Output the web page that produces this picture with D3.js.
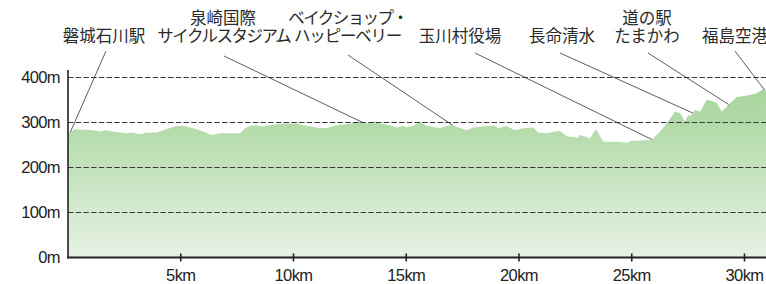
<!DOCTYPE html>
<html>
<head>
<meta charset="UTF-8">
<title>elevation profile</title>
<script src="https://d3js.org/d3.v7.min.js"></script>
<style>
  body { margin: 0; background: #fff; }
  svg { display: block; font-family: "Liberation Sans", Arial, sans-serif; }
  .lbl { font-family: "Noto Sans CJK JP", sans-serif; font-size: 16.5px; fill: #2a2a2a; }
</style>
</head>
<body>
<svg width="766" height="284"></svg>
<script>
// distance along the route (km) and elevation (m)
var distKm = [0, 0.31, 1.12, 1.49, 1.64, 1.86, 2.31, 2.60, 2.82, 3.19, 3.49, 3.93, 4.23, 4.52, 4.82,
  5.11, 5.41, 5.71, 6.00, 6.37, 6.74, 7.63, 7.85, 8.07, 8.37, 8.59, 8.96, 9.55, 10.14, 10.42,
  11.03, 11.47, 11.92, 12.51, 12.73, 13.02, 13.25, 13.61, 13.84, 14.28, 14.58, 14.87, 15.02,
  15.30, 15.61, 15.90, 16.49, 16.79, 17.01, 17.31, 17.68, 17.97, 18.57, 18.93, 19.08, 19.45,
  19.82, 20.19, 20.64, 20.86, 21.24, 21.60, 21.82, 22.11, 22.26, 22.48, 22.56, 22.71, 22.85,
  23.15, 23.41, 23.74, 24.33, 24.85, 24.92, 25.37, 25.88, 26.25, 26.55, 26.92, 27.14, 27.36,
  27.51, 27.58, 27.80, 28.03, 28.32, 28.55, 28.77, 28.99, 29.28, 29.65, 30.24, 30.54, 30.83, 31];
var elevM = [275, 285, 283, 280, 283, 281, 278, 276, 278, 274, 277, 278, 283, 288, 292,
  293, 289, 285, 280, 272, 276, 276, 287, 292, 294, 291, 294, 298, 298, 294,
  289, 287, 294, 297, 301, 301, 297, 303, 298, 294, 289, 293, 289,
  293, 301, 293, 287, 292, 295, 289, 283, 289, 292, 293, 287, 292,
  283, 287, 289, 277, 276, 280, 281, 270, 268, 268, 265, 272, 270,
  265, 285, 257, 257, 255, 259, 260, 261, 280, 298, 324, 321, 302,
  317, 313, 328, 324, 350, 348, 343, 324, 339, 356, 361, 365, 374, 368];

var yTicks = [0, 100, 200, 300, 400];
var xTicks = [5, 10, 15, 20, 25, 30];

// places along the route
var placeNames = [["磐城石川駅"], ["泉崎国際", "サイクルスタジアム"], ["ベイクショップ・", "ハッピーベリー"],
  ["玉川村役場"], ["長命清水"], ["道の駅", "たまかわ"], ["福島空港"]];
var placeKm = [0.1, 13.05, 17.05, 25.9, 27.7, 29.3, 30.9];

var svg = d3.select("svg");
var left = 68, bottom = 257.5;

var x = d3.scaleLinear().domain([0, 31]).range([left, left + 31 * 22.55]);
var y = d3.scaleLinear().domain([0, 400]).range([bottom, 77.5]);

var profile = distKm.map(function(d, i) { return [d, elevM[i]]; });

// gradient fill
var grad = svg.append("defs").append("linearGradient")
  .attr("id", "g").attr("gradientUnits", "userSpaceOnUse")
  .attr("x1", 0).attr("x2", 0).attr("y1", y(400)).attr("y2", y(0));
grad.append("stop").attr("offset", "0%").attr("stop-color", "#a2d297");
grad.append("stop").attr("offset", "25%").attr("stop-color", "#b2daa8");
grad.append("stop").attr("offset", "100%").attr("stop-color", "#e6f2e4");

svg.append("path")
  .datum(profile)
  .attr("fill", "url(#g)")
  .attr("d", d3.area().x(function(d) { return x(d[0]); }).y0(y(0)).y1(function(d) { return y(d[1]); }));

// dashed grid
svg.append("g").selectAll("line")
  .data(yTicks.slice(1))
  .enter().append("line")
  .attr("x1", left).attr("x2", 766)
  .attr("y1", function(d) { return y(d); }).attr("y2", function(d) { return y(d); })
  .attr("stroke", "#3a3a3a").attr("stroke-width", 1.1)
  .attr("stroke-dasharray", "5.5,2.2");

// axes
svg.append("line").attr("x1", left).attr("x2", left).attr("y1", 70).attr("y2", bottom + 1)
  .attr("stroke", "#222").attr("stroke-width", 1.6);
svg.append("line").attr("x1", left - 0.8).attr("x2", 766).attr("y1", bottom).attr("y2", bottom)
  .attr("stroke", "#222").attr("stroke-width", 2);

svg.append("g").selectAll("line")
  .data(xTicks).enter().append("line")
  .attr("x1", function(d) { return x(d); }).attr("x2", function(d) { return x(d); })
  .attr("y1", bottom - 4).attr("y2", bottom + 4)
  .attr("stroke", "#222").attr("stroke-width", 1.6);

svg.append("g").selectAll("text")
  .data(xTicks).enter().append("text")
  .attr("x", function(d) { return x(d); }).attr("y", 281)
  .attr("text-anchor", "middle").attr("font-size", 16.5).attr("fill", "#222")
  .attr("letter-spacing", -0.6)
  .text(function(d) { return d + "km"; });

svg.append("g").selectAll("text")
  .data(yTicks).enter().append("text")
  .attr("x", 60).attr("y", function(d) { return y(d) + 5.5; })
  .attr("text-anchor", "end").attr("font-size", 16.5).attr("fill", "#222")
  .attr("letter-spacing", -0.6)
  .text(function(d) { return d + "m"; });

// labels and leader lines
var labelX = [104, 223, 347, 460, 562, 647, 735];
var lineTop = [[106, 51], [224, 56], [348, 55], [475, 53], [560, 53], [648, 53], [735, 51]];
// katakana lines are set tighter in the original
var tight = { "サイクルスタジアム": -1.5, "ベイクショップ・": -1.6, "ハッピーベリー": -1.2 };
var bis = d3.bisector(function(d) { return d[0]; }).left;
function elevAt(k) {
  var i = Math.max(1, bis(profile, k));
  var a = profile[i - 1], b = profile[i];
  return a[1] + (b[1] - a[1]) * (k - a[0]) / (b[0] - a[0]);
}

placeNames.forEach(function(lines, i) {
  svg.append("line")
    .attr("x1", lineTop[i][0]).attr("y1", lineTop[i][1])
    .attr("x2", x(placeKm[i])).attr("y2", y(elevAt(placeKm[i])))
    .attr("stroke", "#333").attr("stroke-width", 0.8);
  lines.forEach(function(s, j) {
    var ls = tight[s] || 0;
    svg.append("text").attr("class", "lbl").attr("text-anchor", "middle")
      .attr("x", labelX[i] - ls / 2)
      .attr("y", 42 - (lines.length - 1 - j) * 18)
      .attr("letter-spacing", ls)
      .text(s);
  });
});
</script>
</body>
</html>
